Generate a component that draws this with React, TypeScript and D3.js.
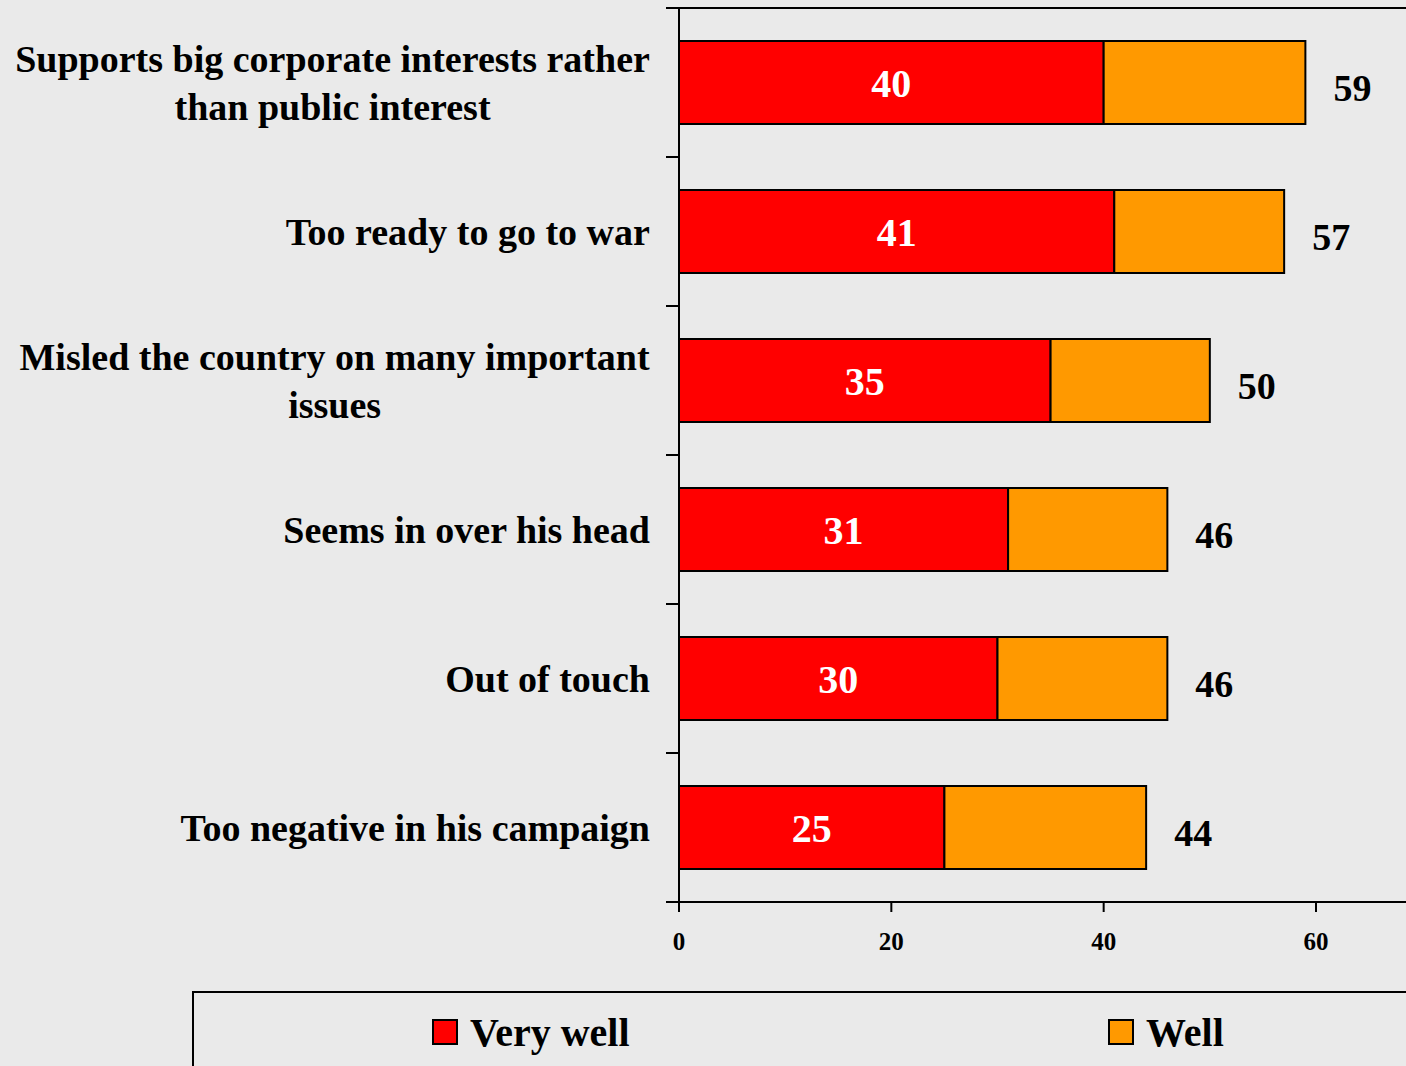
import React, { useEffect, useRef } from "react";
import * as d3 from "d3";

const categories: string[][] = [
  ["Supports big corporate interests rather", "than public interest"],
  ["Too ready to go to war"],
  ["Misled the country on many important", "issues"],
  ["Seems in over his head"],
  ["Out of touch"],
  ["Too negative in his campaign"],
];
const veryWell = [40, 41, 35, 31, 30, 25];
const total = [59, 57, 50, 46, 46, 44];
const xTicks = [0, 20, 40, 60];
const seriesNames = ["Very well", "Well"];
const seriesColors = ["#FF0000", "#FF9900"];

const W = 1406;
const H = 1066;
const FONT = "'Liberation Serif', 'Times New Roman', serif";

export default function App() {
  const ref = useRef<SVGSVGElement>(null);

  useEffect(() => {
    const svg = d3.select(ref.current);
    svg.selectAll("*").remove();

    svg.append("rect").attr("width", W).attr("height", H).attr("fill", "#EAEAEA");

    const keys = categories.map((c) => c.join(" "));
    const x = d3.scaleLinear().domain([0, 70]).range([679, 679 + (70 * (1316 - 679)) / 60]);
    const y = d3
      .scaleBand<string>()
      .domain(keys)
      .range([8, 902])
      .paddingInner(0.443)
      .paddingOuter(0.2215);

    const g = svg.append("g");

    // top border line
    g.append("line")
      .attr("x1", 666).attr("x2", W + 10)
      .attr("y1", 8).attr("y2", 8)
      .attr("stroke", "#000").attr("stroke-width", 2);

    // bars
    const rows = keys.map((k, i) => ({ k, vw: veryWell[i], t: total[i] }));
    const rg = g.selectAll("g.row").data(rows).enter().append("g");
    rg.append("rect")
      .attr("x", x(0))
      .attr("y", (d) => y(d.k)!)
      .attr("width", (d) => x(d.vw) - x(0))
      .attr("height", y.bandwidth())
      .attr("fill", seriesColors[0])
      .attr("stroke", "#000").attr("stroke-width", 2);
    rg.append("rect")
      .attr("x", (d) => x(d.vw))
      .attr("y", (d) => y(d.k)!)
      .attr("width", (d) => x(d.t) - x(d.vw))
      .attr("height", y.bandwidth())
      .attr("fill", seriesColors[1])
      .attr("stroke", "#000").attr("stroke-width", 2);

    rg.append("text")
      .attr("x", (d) => (x(0) + x(d.vw)) / 2)
      .attr("y", (d) => y(d.k)! + y.bandwidth() / 2 + 14)
      .attr("text-anchor", "middle")
      .attr("font-family", FONT).attr("font-weight", "bold").attr("font-size", 40)
      .attr("fill", "#fff")
      .text((d) => d.vw);
    rg.append("text")
      .attr("x", (d) => x(d.t) + 47)
      .attr("y", (d) => y(d.k)! + y.bandwidth() / 2 + 18)
      .attr("text-anchor", "middle")
      .attr("font-family", FONT).attr("font-weight", "bold").attr("font-size", 38)
      .attr("fill", "#000")
      .text((d) => d.t);

    // y axis line
    g.append("line")
      .attr("x1", 679).attr("x2", 679)
      .attr("y1", 8).attr("y2", 902)
      .attr("stroke", "#000").attr("stroke-width", 2);
    // y ticks at band boundaries
    const bounds = keys.map((k) => y(k)! - (y.step() * y.paddingInner()) / 2).concat([902]);
    g.selectAll("line.yt").data(bounds).enter().append("line")
      .attr("x1", 666).attr("x2", 679)
      .attr("y1", (d) => d).attr("y2", (d) => d)
      .attr("stroke", "#000").attr("stroke-width", 2);

    // x axis
    g.append("line")
      .attr("x1", 666).attr("x2", W + 10)
      .attr("y1", 902).attr("y2", 902)
      .attr("stroke", "#000").attr("stroke-width", 2);
    g.selectAll("line.xt").data(xTicks).enter().append("line")
      .attr("x1", (d) => x(d)).attr("x2", (d) => x(d))
      .attr("y1", 902).attr("y2", 912)
      .attr("stroke", "#000").attr("stroke-width", 2);
    g.selectAll("text.xt").data(xTicks).enter().append("text")
      .attr("x", (d) => x(d))
      .attr("y", 950)
      .attr("text-anchor", "middle")
      .attr("font-family", FONT).attr("font-weight", "bold").attr("font-size", 25)
      .text((d) => d);

    // category labels
    categories.forEach((lines, i) => {
      const cy = y(keys[i])! + y.bandwidth() / 2;
      const lg = g.append("g");
      const lh = 48;
      const n = lines.length;
      lines.forEach((ln, j) => {
        lg.append("text")
          .attr("x", 0)
          .attr("y", cy + 13 + (j - (n - 1) / 2) * lh)
          .attr("text-anchor", "middle")
          .attr("font-family", FONT).attr("font-weight", "bold").attr("font-size", 38)
          .text(ln);
      });
      const bb = (lg.node() as SVGGElement).getBBox();
      lg.attr("transform", `translate(${650 - (bb.x + bb.width)},0)`);
    });

    // legend
    svg.append("rect")
      .attr("x", 193).attr("y", 992)
      .attr("width", W).attr("height", 200)
      .attr("fill", "none").attr("stroke", "#000").attr("stroke-width", 2);
    const legX = [433, 1109];
    seriesNames.forEach((name, i) => {
      svg.append("rect")
        .attr("x", legX[i]).attr("y", 1020)
        .attr("width", 24).attr("height", 24)
        .attr("fill", seriesColors[i])
        .attr("stroke", "#000").attr("stroke-width", 2);
      svg.append("text")
        .attr("x", legX[i] + 37).attr("y", 1046)
        .attr("font-family", FONT).attr("font-weight", "bold").attr("font-size", 40)
        .text(name);
    });
  }, []);

  return (
    <svg
      ref={ref}
      width={W}
      height={H}
      style={{ position: "absolute", left: 0, top: 0, display: "block" }}
    />
  );
}
